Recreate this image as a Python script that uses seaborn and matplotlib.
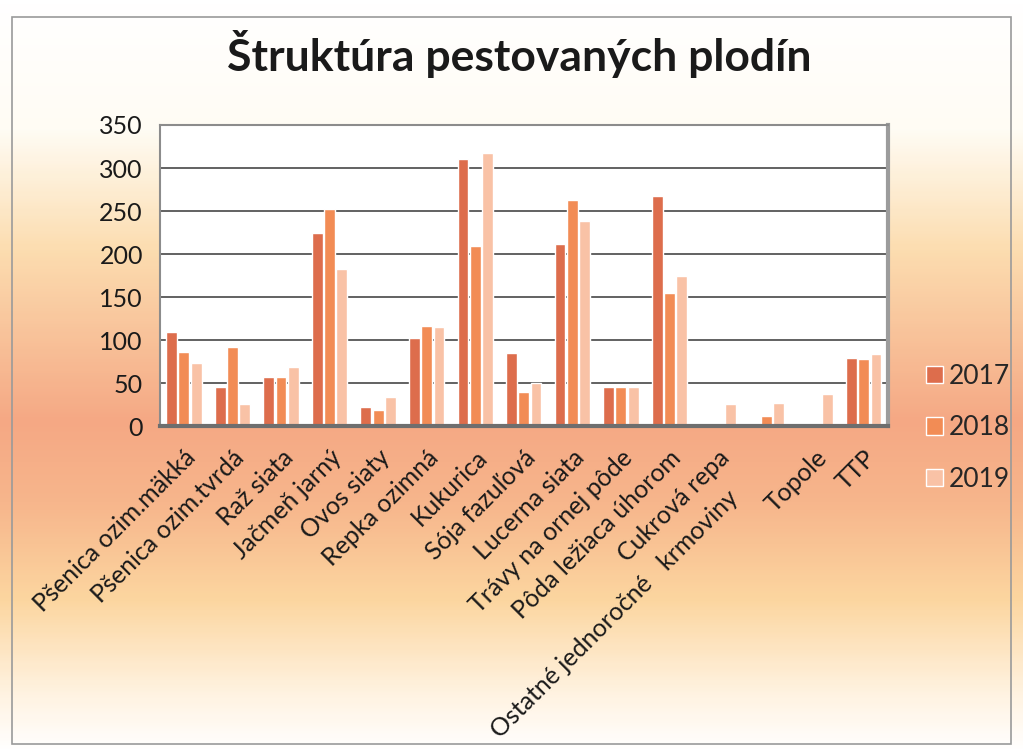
import numpy as np
import pandas as pd
import matplotlib
matplotlib.use("Agg")
import matplotlib.pyplot as plt
from matplotlib.colors import LinearSegmentedColormap
import seaborn as sns

# data
plodiny = [
    "Pšenica ozim.mäkká", "Pšenica ozim.tvrdá", "Raž siata", "Jačmeň jarný",
    "Ovos siaty", "Repka ozimná", "Kukurica", "Sója fazuľová", "Lucerna siata",
    "Trávy na ornej pôde", "Pôda ležiaca úhorom", "Cukrová repa",
    "Ostatné jednoročné krmoviny", "Topole", "TTP",
]
# the original label of "Ostatné..." carries extra spaces
popisky = plodiny[:12] + ["Ostatné jednoročné   krmoviny         "] + plodiny[13:]
roky = ["2017", "2018", "2019"]
hodnoty_2017 = [110, 46, 57, 224, 22, 103, 311, 85, 212, 46, 267, 0, 0, 0, 79]
hodnoty_2018 = [86, 92, 57, 252, 19, 117, 209, 40, 263, 46, 155, 0, 12, 0, 78]
hodnoty_2019 = [74, 26, 69, 183, 34, 115, 318, 50, 239, 46, 174, 26, 27, 37, 84]
farby = ["#DD6D4C", "#F28C55", "#F9C2A6"]

df = pd.DataFrame({
    "plodina": plodiny * 3,
    "rok": [r for r in roky for _ in plodiny],
    "hodnota": hodnoty_2017 + hodnoty_2018 + hodnoty_2019,
})

sns.set_style("white")
plt.rcParams["font.family"] = ["Lato", "DejaVu Sans"]

fig = plt.figure(figsize=(10.23, 7.53), dpi=100)

# background gradient of the chart area
bg = fig.add_axes([0, 0, 1, 1], zorder=-10)
grad_cmap = LinearSegmentedColormap.from_list("bg", [
    (0.0, "#FFFFFF"), (0.17, "#FFFCF4"), (0.33, "#FCDDB0"), (0.56, "#F5A884"),
    (0.67, "#F7B68C"), (0.80, "#FCD6A0"), (0.92, "#FFF2DF"), (1.0, "#FFFFFF"),
])
bg.imshow(np.linspace(0, 1, 300).reshape(-1, 1), aspect="auto", cmap=grad_cmap,
          extent=[0, 1, 0, 1])
bg.set_axis_off()
bg.add_patch(plt.Rectangle((0.012, 0.012), 0.976, 0.965, fill=False,
                           edgecolor="#9A9A9A", lw=1.2, transform=bg.transAxes))

ax = fig.add_axes([0.156, 0.434, 0.712, 0.400])
sns.barplot(data=df, x="plodina", y="hodnota", hue="rok", palette=farby,
            width=0.76, gap=0.12, ax=ax, legend=True, saturation=1)

ax.set_facecolor("white")
ax.set_ylim(0, 350)
ax.set_yticks(range(0, 351, 50))
ax.set_xlim(-0.5, len(plodiny) - 0.5)
ax.set_xticks(range(len(plodiny)))
ax.set_xticklabels(popisky)
ax.yaxis.grid(True, color="#555555", lw=1.3)
ax.set_axisbelow(True)
ax.set_xlabel("")
ax.set_ylabel("")
for s in ax.spines.values():
    s.set_color("#8C8C8C")
    s.set_linewidth(1.5)
ax.spines["bottom"].set_color("#6E6E6E")
ax.spines["bottom"].set_linewidth(3)
ax.spines["right"].set_linewidth(3)
ax.spines["right"].set_color("#9C9C9C")
ax.tick_params(axis="y", length=0, pad=12, labelsize=18, labelcolor="#1A1A1A")
ax.tick_params(axis="x", length=0, pad=14, labelsize=18, labelcolor="#1A1A1A")
plt.setp(ax.get_xticklabels(), rotation=45, ha="right", rotation_mode="anchor")

handles, labels = ax.get_legend_handles_labels()
ax.legend_.remove()
fig.legend(handles, labels, loc="center left", bbox_to_anchor=(0.882, 0.432),
           frameon=False, fontsize=19, handlelength=0.65, handleheight=0.65,
           handletextpad=0.2, labelspacing=1.0)

fig.suptitle("Štruktúra pestovaných plodín", x=0.508, y=0.96,
             fontsize=32, fontweight="bold", color="#1A1A1A")

fig.savefig("out.png", dpi=100)
